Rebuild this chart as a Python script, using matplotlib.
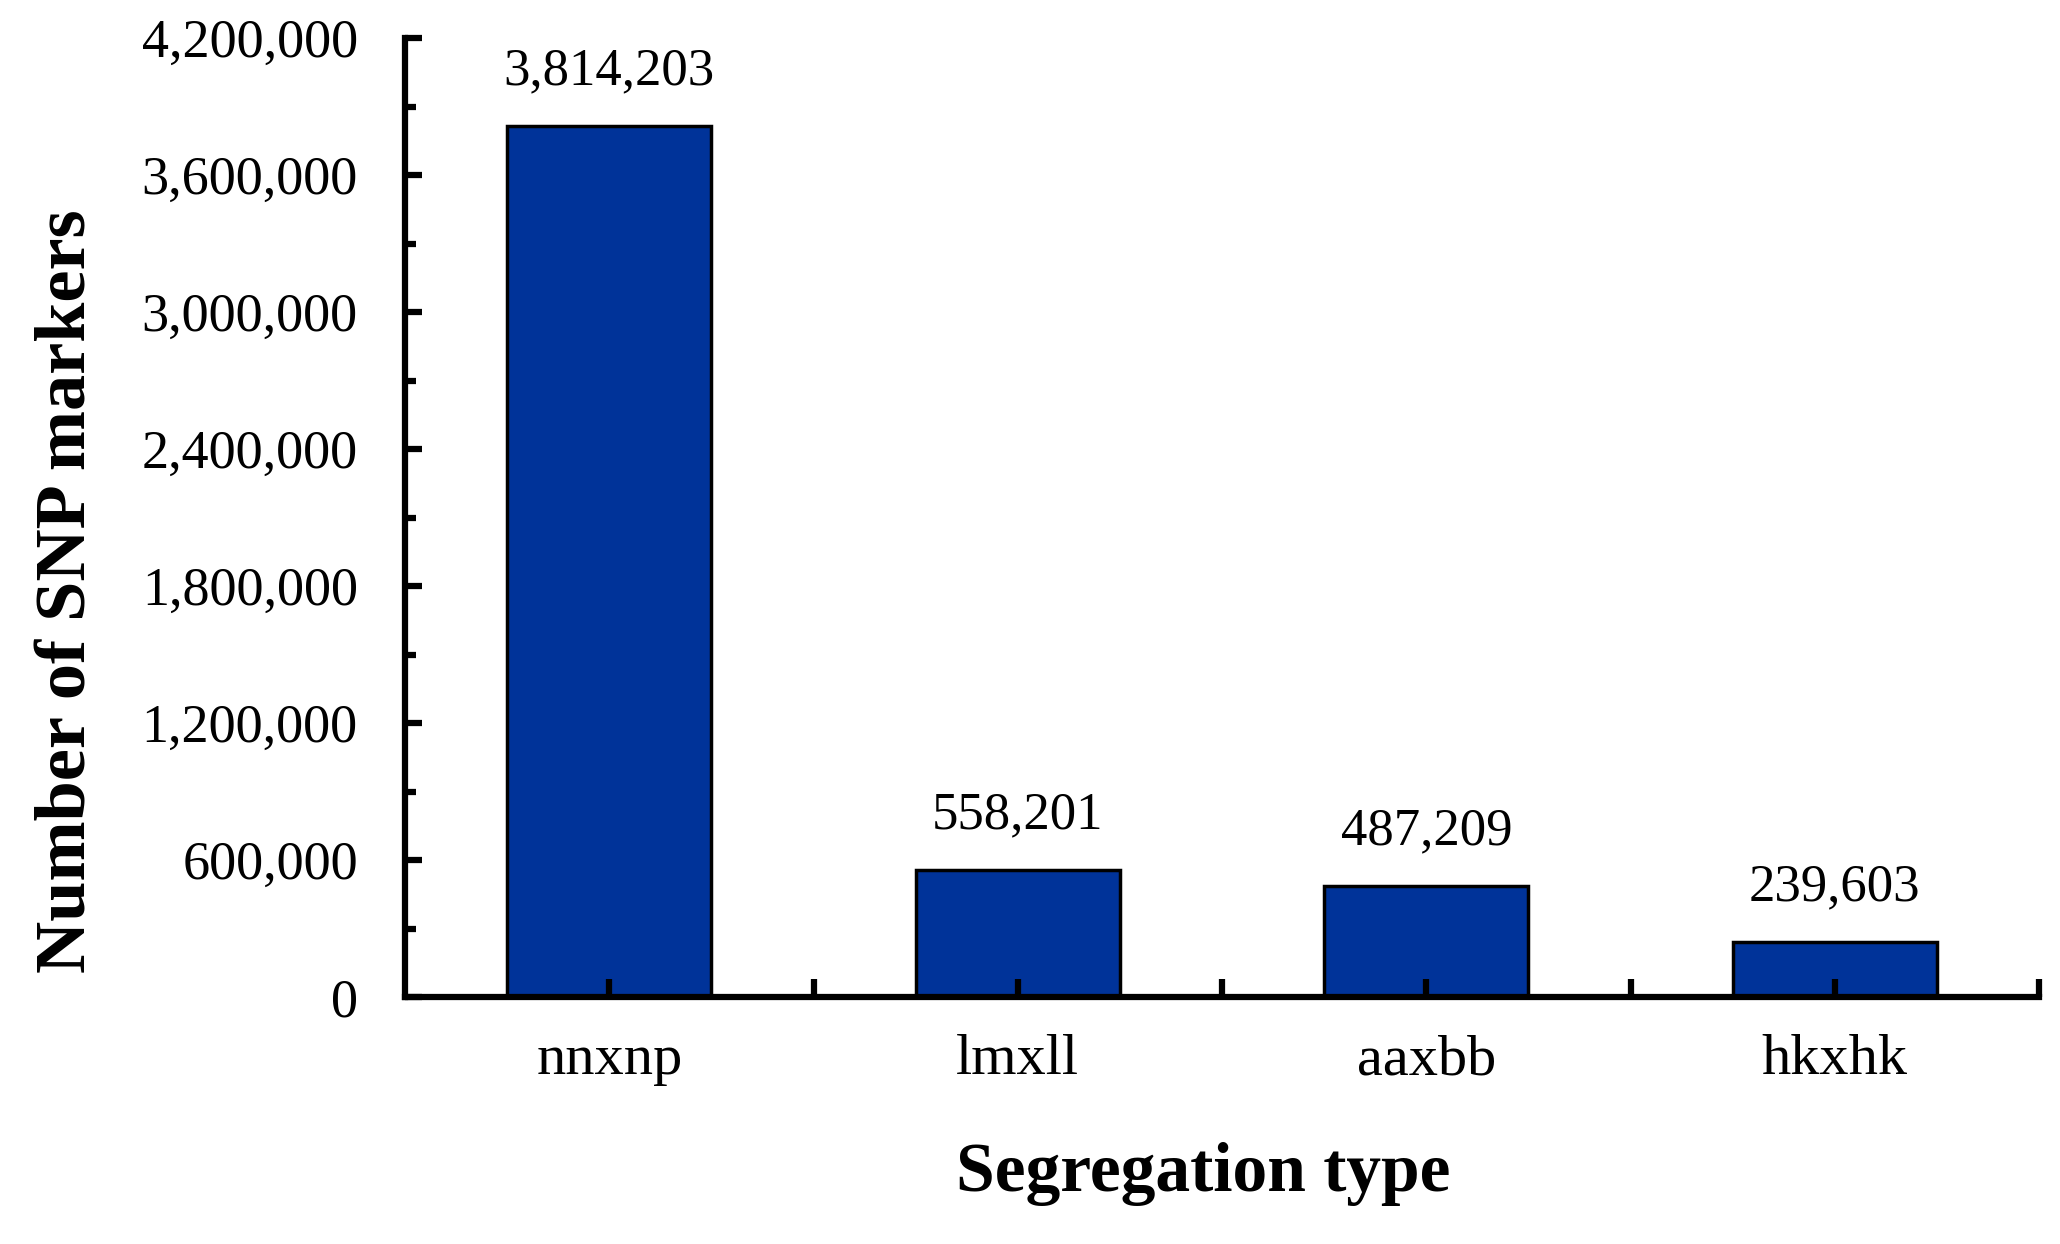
import numpy as np
import matplotlib
matplotlib.use("Agg")
import matplotlib.pyplot as plt
from matplotlib.ticker import MultipleLocator, FixedLocator, StrMethodFormatter

plt.rcParams['font.family'] = ['Liberation Serif', 'DejaVu Serif']

categories = ['nnxnp', 'lmxll', 'aaxbb', 'hkxhk']
snp_counts = [3814203, 558201, 487209, 239603]

fig = plt.figure(figsize=(20.6, 12.44), dpi=100)
ax = fig.add_axes([405 / 2060, 247 / 1244, (2039 - 405) / 2060, (997 - 38) / 1244])

x = np.arange(len(categories))
bars = ax.bar(x, snp_counts, width=0.5, color='#003399', edgecolor='black', linewidth=2.5, zorder=2)
ax.set_axisbelow(False)  # ticks show on top of the bars, as in the original

for xi, v in zip(x, snp_counts):
    ax.annotate(f'{v:,}', xy=(xi, v), xytext=(0, 30), textcoords='offset points',
                ha='center', va='baseline', fontsize=38)

ax.set_xlim(-0.5, len(categories) - 0.5)
ax.set_ylim(0, 4200000)

ax.yaxis.set_major_locator(MultipleLocator(600000))
ax.yaxis.set_minor_locator(MultipleLocator(300000))
ax.yaxis.set_major_formatter(StrMethodFormatter('{x:,.0f}'))

ax.set_xticks(x)
ax.set_xticklabels(categories)
ax.xaxis.set_minor_locator(FixedLocator(np.arange(0.5, len(categories), 1.0)))

for s in ['top', 'right']:
    ax.spines[s].set_visible(False)
for s in ['left', 'bottom']:
    ax.spines[s].set_linewidth(4.5)
    ax.spines[s].set_zorder(3)

ax.tick_params(axis='y', which='major', direction='in', length=12, width=4.5, labelsize=39, pad=34)
ax.tick_params(axis='y', which='minor', direction='in', length=8, width=4.5)
ax.tick_params(axis='x', which='both', direction='in', length=13, width=4.5, labelsize=42, pad=27)

fig.text(68 / 2060, 1 - 591 / 1244, 'Number of SNP markers', rotation=90,
         ha='center', va='center', fontsize=52, fontweight='bold')
fig.text(1203 / 2060, 1 - 1191 / 1244, 'Segregation type',
         ha='center', va='baseline', fontsize=50, fontweight='bold')

fig.savefig('out.png', dpi=100)
